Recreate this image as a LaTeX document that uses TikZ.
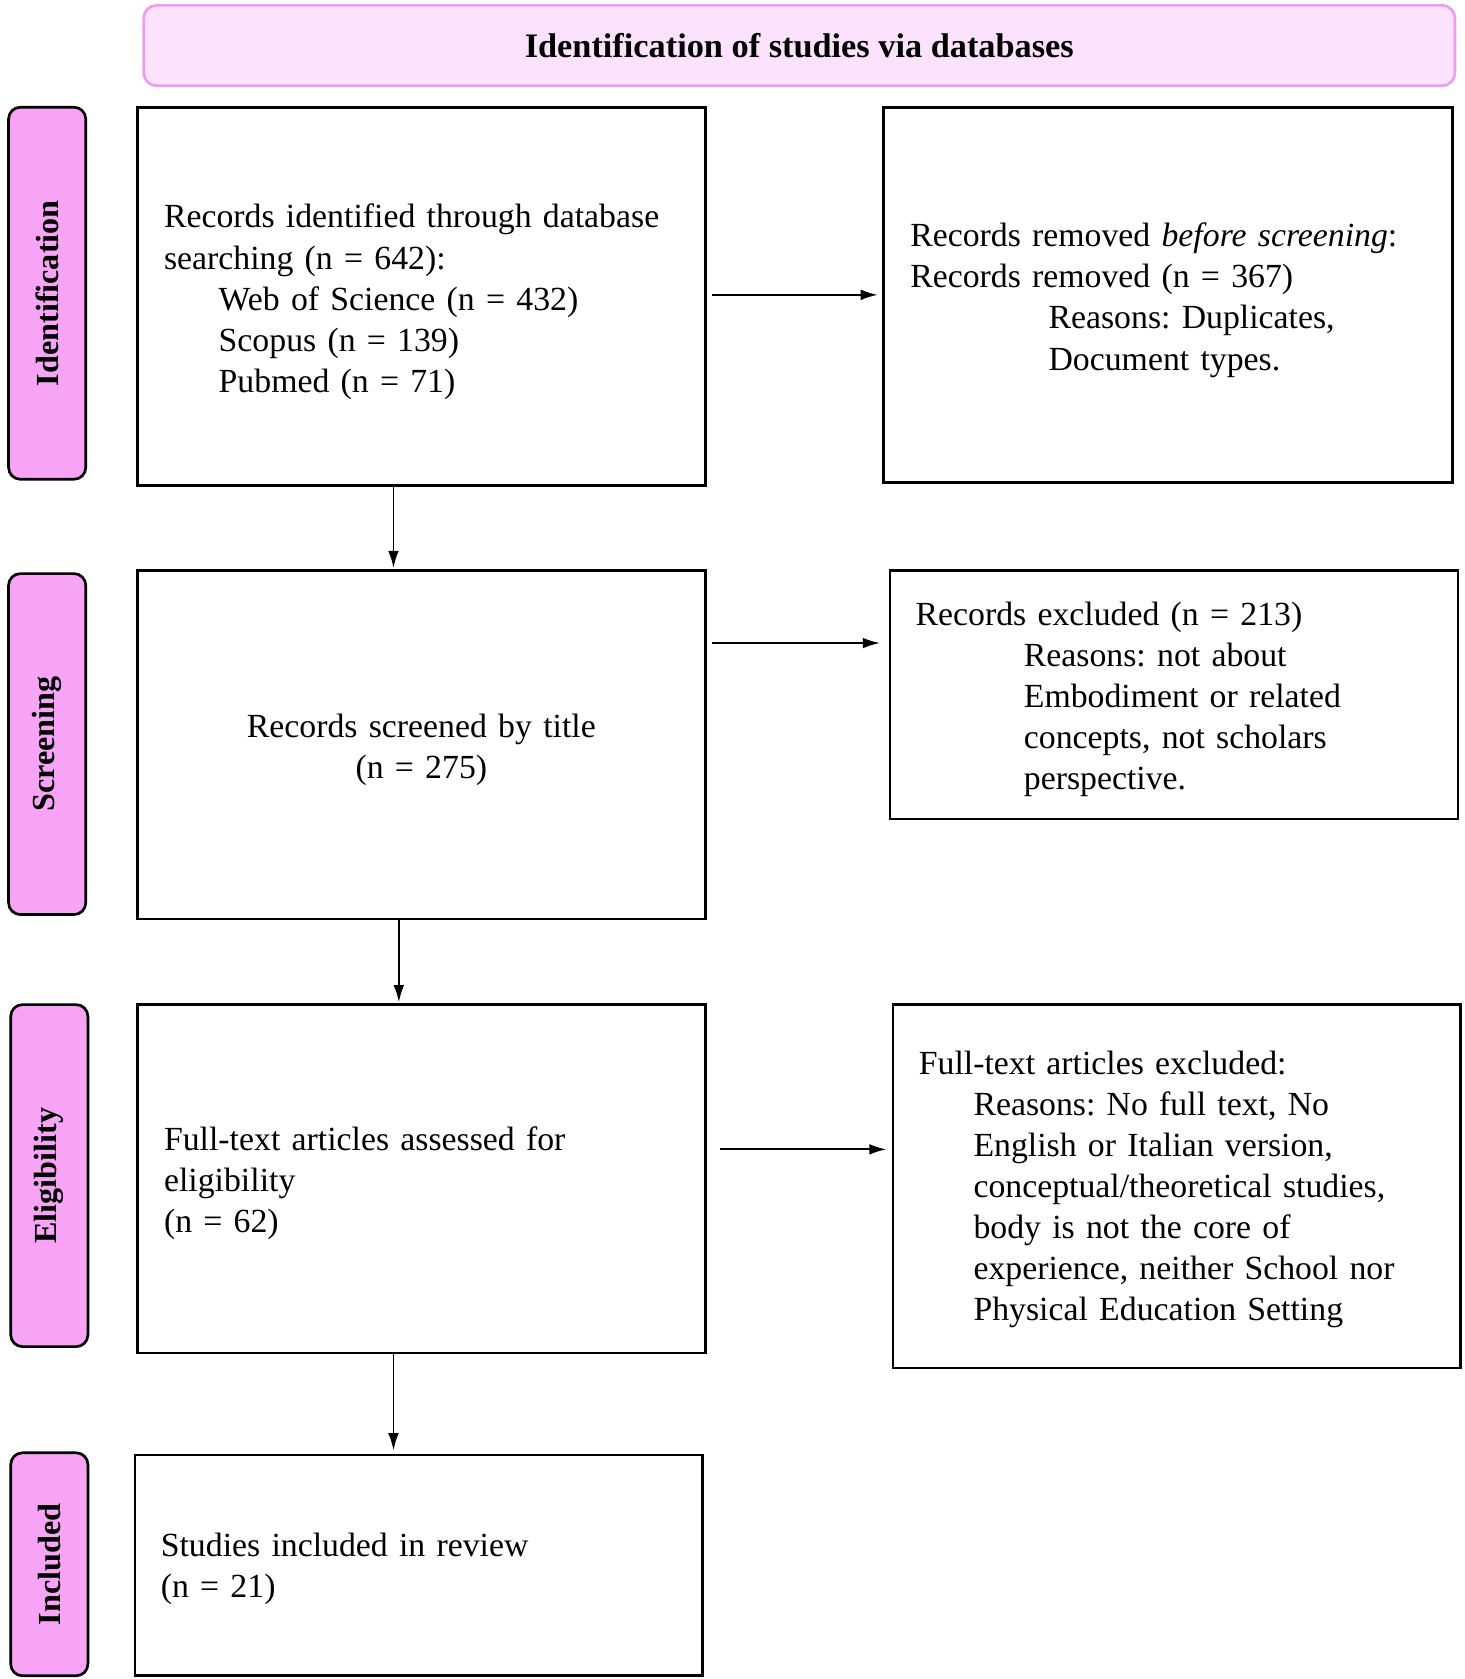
\documentclass[tikz,border=0pt]{standalone}
\usepackage{fontspec}
\setmainfont{Liberation Serif}
\frenchspacing
\usetikzlibrary{arrows.meta,calc}
\definecolor{hdrfill}{HTML}{FDE2FD}
\definecolor{hdrline}{HTML}{EE9CEE}
\definecolor{sidefill}{HTML}{F7A4F7}
\begin{document}
\frenchspacing
\begin{tikzpicture}[x=1pt,y=-1pt,
  box/.style={draw=black, line width=2.5pt, inner sep=0pt},
  boxtext/.style={inner sep=0pt, align=left, font=\fontsize{31.5}{38.3}\selectfont},
  hdr/.style={draw=hdrline, fill=hdrfill, line width=2.5pt, rounded corners=12pt,
    inner sep=0pt, font=\fontsize{32}{36}\selectfont\bfseries},
  side/.style={draw=black, fill=sidefill, line width=2.5pt, rounded corners=11pt,
    inner sep=0pt, rotate=90, minimum height=72pt,
    font=\fontsize{30}{36}\selectfont\bfseries},
  arr/.style={line width=1.8pt, -{Latex[length=16pt,width=10pt]}}]
\useasboundingbox (0,0) rectangle (1366,1566);

% header
\node[hdr, minimum width=1223pt, minimum height=75pt] (hd) at (745.5,42.5)
  {Identification of studies via databases};

% side labels
\node[side, minimum width=347pt] (L1) at (44,273.5) {Identification};
\node[side, minimum width=318pt] (L2) at (44,694) {Screening};
\node[side, minimum width=319pt] (L3) at (46,1096.5) {Eligibility};
\node[side, minimum width=208pt] (L4) at (46,1459) {Included};

% main boxes
\node[box, minimum width=530pt, minimum height=353pt] (B1) at (393,276.5) {};
\node[box, minimum width=531pt, minimum height=350pt] (R1) at (1089.5,275) {};
\node[box, minimum width=530pt, minimum height=325pt] (B2) at (393,694.5) {};
\node[box, minimum width=530pt, minimum height=232pt] (R2) at (1095,648) {};
\node[box, minimum width=530pt, minimum height=325pt] (B3) at (393,1099.5) {};
\node[box, minimum width=529pt, minimum height=339pt] (R3) at (1097.5,1106.5) {};
\node[box, minimum width=529pt, minimum height=206pt] (B4) at (390.5,1460) {};

% texts
\node[boxtext, text width=480pt] (B1t) at ($(B1.center)+(0,5)$)
  {Records identified through database\\
   searching (n = 642):\\
   \hspace*{51pt}Web of Science (n = 432)\\
   \hspace*{51pt}Scopus (n = 139)\\
   \hspace*{51pt}Pubmed (n = 71)};

\node[boxtext, text width=481pt] (R1t) at ($(R1.center)+(0,5)$)
  {Records removed \textit{before screening}:\\
   Records removed (n = 367)\\
   \hspace*{129pt}Reasons: Duplicates,\\
   \hspace*{129pt}Document types.};

\node[boxtext, align=center, text width=480pt] (B2t) at ($(B2.center)+(0,5)$)
  {Records screened by title\\
   (n = 275)};

\node[boxtext, text width=482pt] (R2t) at ($(R2.center)+(0,4)$)
  {Records excluded (n = 213)\\
   \hspace*{101pt}Reasons: not about\\
   \hspace*{101pt}Embodiment or related\\
   \hspace*{101pt}concepts, not scholars\\
   \hspace*{101pt}perspective.};

\node[boxtext, text width=480pt] (B3t) at ($(B3.center)+(0,4)$)
  {Full-text articles assessed for\\
   eligibility\\
   (n = 62)};

\node[boxtext, text width=481pt] (R3t) at ($(R3.center)+(0,3)$)
  {Full-text articles excluded:\\
   \hspace*{51pt}Reasons: No full text, No\\
   \hspace*{51pt}English or Italian version,\\
   \hspace*{51pt}conceptual/theoretical studies,\\
   \hspace*{51pt}body is not the core of\\
   \hspace*{51pt}experience, neither School nor\\
   \hspace*{51pt}Physical Education Setting};

\node[boxtext, text width=481pt] (B4t) at ($(B4.center)+(0,3)$)
  {Studies included in review\\
   (n = 21)};

% helper coordinates for arrow heights
\coordinate (a1) at ($(R1.west)+(0,0)$);
\coordinate (a2) at ($(R2.north west)+(0,69)$);
\coordinate (a3) at ($(R3.west)+(0,-34.5)$);

% horizontal arrows
\draw[arr] ($(B1.east |- a1)+(5,0)$) -- ($(a1)+(-4,0)$);
\draw[arr] ($(B2.east |- a2)+(5,0)$) -- ($(a2)+(-8,0)$);
\draw[arr] ($(B3.east |- a3)+(12,0)$) -- ($(a3)+(-5,0)$);

% vertical arrows
\draw[arr] ($(B1.south)+(-26,0)$) -- ($(B2.north)+(-26,-1)$);
\draw[arr] ($(B2.south)+(-21,0)$) -- ($(B3.north)+(-21,-1)$);
\draw[arr] ($(B3.south)+(-26,0)$) -- ($(B4.north -| B3.south)+(-26,-3)$);
\end{tikzpicture}
\end{document}
